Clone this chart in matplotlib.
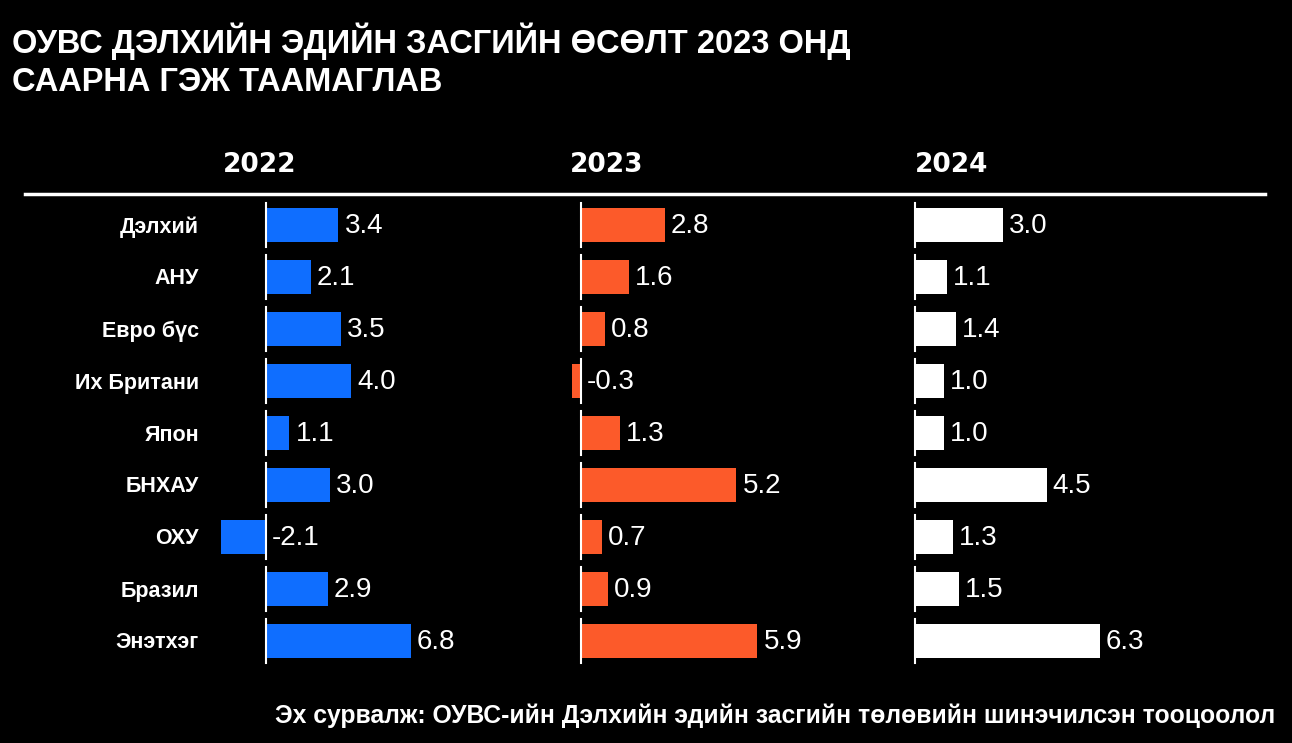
import matplotlib
matplotlib.use('Agg')
import matplotlib.pyplot as plt

# Өгөгдөл
countries = ['Дэлхий', 'АНУ', 'Евро бүс', 'Их Британи', 'Япон',
             'БНХАУ', 'ОХУ', 'Бразил', 'Энэтхэг']
years = ['2022', '2023', '2024']
growth_2022 = [3.4, 2.1, 3.5, 4.0, 1.1, 3.0, -2.1, 2.9, 6.8]
growth_2023 = [2.8, 1.6, 0.8, -0.3, 1.3, 5.2, 0.7, 0.9, 5.9]
growth_2024 = [3.0, 1.1, 1.4, 1.0, 1.0, 4.5, 1.3, 1.5, 6.3]

title = 'ОУВС ДЭЛХИЙН ЭДИЙН ЗАСГИЙН ӨСӨЛТ 2023 ОНД\nСААРНА ГЭЖ ТААМАГЛАВ'
source = 'Эх сурвалж: ОУВС-ийн Дэлхийн эдийн засгийн төлөвийн шинэчилсэн тооцоолол'

W, H = 1292, 743
font = ['Liberation Sans', 'DejaVu Sans']

fig = plt.figure(figsize=(W / 100, H / 100), dpi=100, facecolor='black')

# Гарчиг
fig.text(12 / W, 1 - 22 / H, title, color='white', fontsize=23.5, fontweight='bold',
         family=font, ha='left', va='top', linespacing=1.3)

# Толгой шугам
fig.add_artist(plt.Line2D([25 / W, 1265 / W], [1 - 194 / H] * 2, color='white', lw=2.5))

# Самбар: (өгөгдөл, өнгө, тэг цэг px, px/нэгж, зүүн px, өргөн px, оны төв px)
panels = [
    (growth_2022, '#0f6eff', 266, 21.3, 205, 330, 260),
    (growth_2023, '#fc5a2a', 581, 29.9, 540, 330, 607),
    (growth_2024, '#ffffff', 915, 29.3, 880, 390, 952),
]

top, bottom = 199, 667
for (vals, col, zero, scale, left, width, ycx), yr in zip(panels, years):
    ax = fig.add_axes([left / W, 1 - bottom / H, width / W, (bottom - top) / H])
    ax.set_facecolor('black')
    ax.set_xlim((left - zero) / scale, (left + width - zero) / scale)
    ax.set_ylim(len(countries) - 0.5, -0.5)
    ax.axis('off')
    pos = list(range(len(countries)))
    ax.barh(pos, vals, height=0.67, color=col)
    for p, v in zip(pos, vals):
        ax.plot([0, 0], [p - 0.42, p + 0.42], color='white', lw=1.5)
        ax.text(max(v, 0) + 6 / scale, p + 0.02, f'{v:.1f}', color='white',
                fontsize=20, family=font, ha='left', va='center')
    fig.text(ycx / W, 1 - 165 / H, yr, color='white', fontsize=19,
             fontweight='bold', family=['DejaVu Sans'], ha='center', va='center')

# Улсын нэрс
for i, c in enumerate(countries):
    fig.text(199 / W, 1 - (227 + 52 * i) / H, c, color='white', fontsize=15.5,
             fontweight='bold', family=font, ha='right', va='center')

# Эх сурвалж
fig.text(1275 / W, 1 - 716 / H, source, color='white', fontsize=17.8,
         fontweight='bold', family=font, ha='right', va='center')

fig.savefig('out.png', dpi=100, facecolor='black')
